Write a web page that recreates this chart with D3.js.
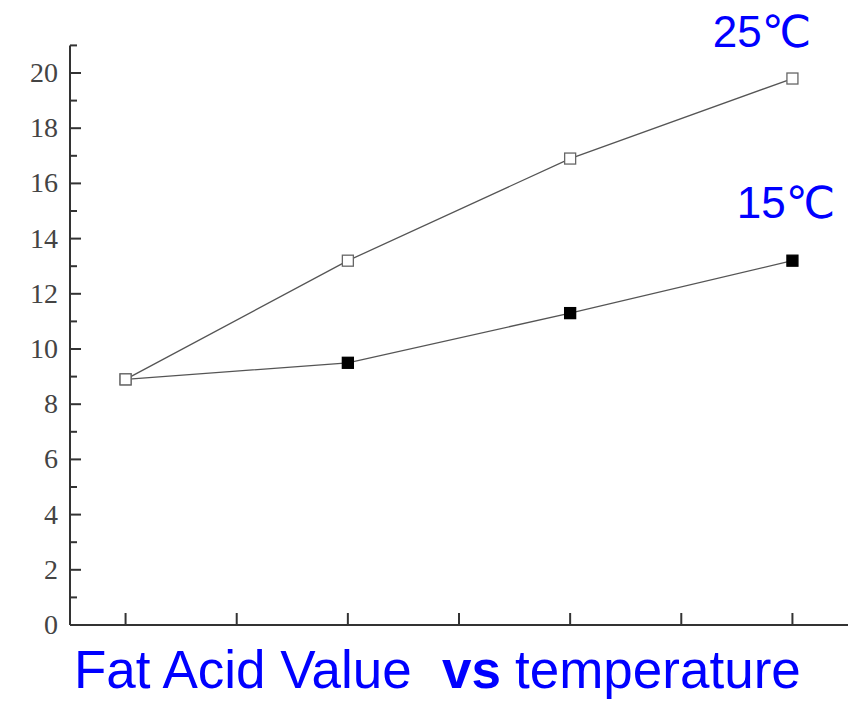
<!DOCTYPE html>
<html>
<head>
<meta charset="utf-8">
<script src="https://cdn.jsdelivr.net/npm/d3@7"></script>
<style>
  body { margin: 0; background: #fff; }
  svg { display: block; }
</style>
</head>
<body>
<svg id="chart" width="856" height="701"></svg>
<script>
// chart data
const xPositions = [0, 2, 4, 6];
const series25 = [8.9, 13.2, 16.9, 19.8];
const series15 = [8.9, 9.5, 11.3, 13.2];
const yMajorTicks = [0, 2, 4, 6, 8, 10, 12, 14, 16, 18, 20];
const yMinorTicks = [1, 3, 5, 7, 9, 11, 13, 15, 17, 19, 21];
const xTicks = [0, 1, 2, 3, 4, 5, 6];
const seriesLabels = ["25\u2103", "15\u2103"];

const svg = d3.select("#chart");

// scales
const x = d3.scaleLinear().domain([-0.5, 6.5]).range([70, 848]);
const y = d3.scaleLinear().domain([0, 20]).range([625, 73]);

const axisColor = "#333";

// y axis line
svg.append("line")
  .attr("x1", x(-0.5)).attr("x2", x(-0.5))
  .attr("y1", y(21)).attr("y2", y(0))
  .attr("stroke", axisColor).attr("stroke-width", 2);

// x axis line
svg.append("line")
  .attr("x1", x(-0.5)).attr("x2", x(6.5))
  .attr("y1", y(0)).attr("y2", y(0))
  .attr("stroke", axisColor).attr("stroke-width", 2);

// y ticks (inward)
svg.append("g").selectAll("line.major")
  .data(yMajorTicks)
  .enter().append("line")
  .attr("x1", x(-0.5)).attr("x2", x(-0.5) + 11)
  .attr("y1", (d) => y(d)).attr("y2", (d) => y(d))
  .attr("stroke", axisColor).attr("stroke-width", 2);

svg.append("g").selectAll("line.minor")
  .data(yMinorTicks)
  .enter().append("line")
  .attr("x1", x(-0.5)).attr("x2", x(-0.5) + 7)
  .attr("y1", (d) => y(d)).attr("y2", (d) => y(d))
  .attr("stroke", axisColor).attr("stroke-width", 2);

// y tick labels
svg.append("g").selectAll("text")
  .data(yMajorTicks)
  .enter().append("text")
  .attr("x", 58)
  .attr("y", (d) => y(d) + 9)
  .attr("text-anchor", "end")
  .attr("font-family", "'Liberation Serif', 'DejaVu Serif', serif")
  .attr("font-size", 28)
  .attr("fill", "#444")
  .text((d) => d);

// x ticks (inward)
svg.append("g").selectAll("line")
  .data(xTicks)
  .enter().append("line")
  .attr("x1", (d) => x(d)).attr("x2", (d) => x(d))
  .attr("y1", y(0)).attr("y2", y(0) - 12)
  .attr("stroke", axisColor).attr("stroke-width", 2);

// lines
const line = d3.line()
  .x((d, i) => x(xPositions[i]))
  .y((d) => y(d));

[series25, series15].forEach((s) => {
  svg.append("path")
    .datum(s)
    .attr("d", line)
    .attr("fill", "none")
    .attr("stroke", "#555")
    .attr("stroke-width", 1.3);
});

// markers
const size = 11;
svg.append("g").selectAll("rect")
  .data(series15)
  .enter().append("rect")
  .attr("x", (d, i) => x(xPositions[i]) - size / 2)
  .attr("y", (d) => y(d) - size / 2)
  .attr("width", size).attr("height", size)
  .attr("fill", (d, i) => (i === 0 ? "#fff" : "#000"))
  .attr("stroke", (d, i) => (i === 0 ? "#666" : "#000"))
  .attr("stroke-width", 1.3);

svg.append("g").selectAll("rect")
  .data(series25)
  .enter().append("rect")
  .attr("x", (d, i) => x(xPositions[i]) - size / 2)
  .attr("y", (d) => y(d) - size / 2)
  .attr("width", size).attr("height", size)
  .attr("fill", "#fff")
  .attr("stroke", "#666")
  .attr("stroke-width", 1.3);

// series labels
const labelFont = "'Liberation Sans', Arial, 'DejaVu Sans', sans-serif";
svg.append("text")
  .attr("x", 762).attr("y", 47)
  .attr("text-anchor", "middle")
  .attr("font-family", labelFont)
  .attr("font-size", 44)
  .attr("fill", "#0000ff")
  .text(seriesLabels[0]);

svg.append("text")
  .attr("x", 786).attr("y", 218)
  .attr("text-anchor", "middle")
  .attr("font-family", labelFont)
  .attr("font-size", 44)
  .attr("fill", "#0000ff")
  .text(seriesLabels[1]);

// title, kept high enough that descenders stay inside the frame
const title = svg.append("text")
  .attr("x", 74).attr("y", 688)
  .attr("font-family", labelFont)
  .attr("font-size", 53)
  .attr("fill", "#0000ff")
  .attr("xml:space", "preserve");
title.append("tspan").text("Fat Acid Value");
title.append("tspan").attr("x", 442).attr("font-weight", "bold").text("vs");
title.append("tspan").attr("x", 515).text("temperature");
</script>
</body>
</html>
